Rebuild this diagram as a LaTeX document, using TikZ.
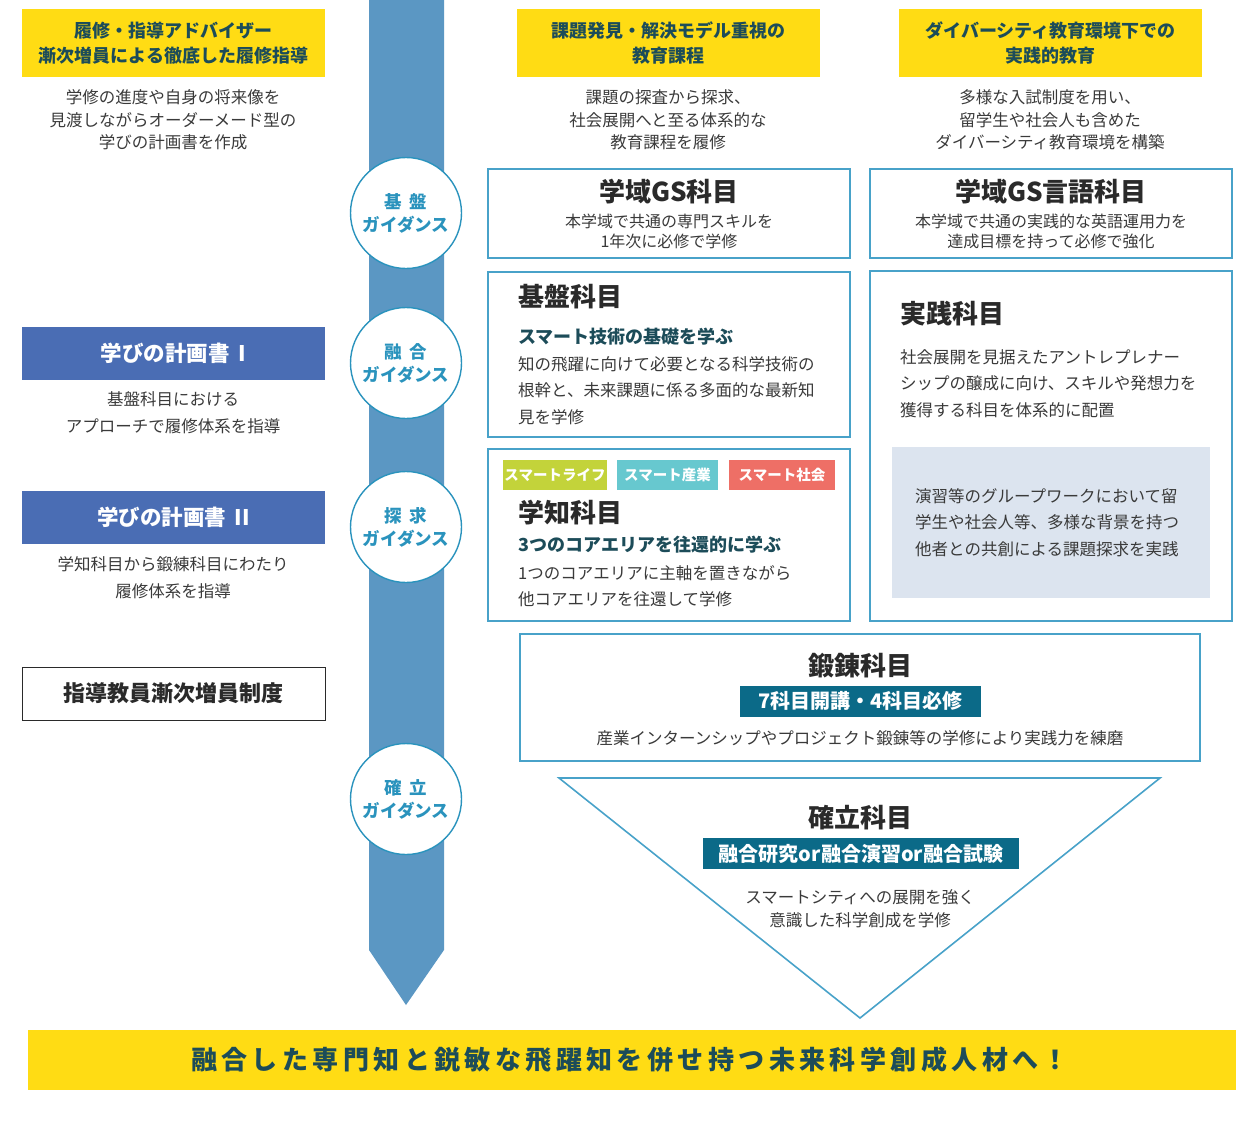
\documentclass[tikz,border=0pt]{standalone}
\usepackage{fontspec}
\setmainfont{Noto Sans CJK JP}
\usetikzlibrary{positioning}
\definecolor{gsyellow}{HTML}{FFDC14}
\definecolor{gsteal}{HTML}{1C4C59}
\definecolor{gsgray}{HTML}{3A3A3A}
\definecolor{gsdark}{HTML}{2A2A2A}
\definecolor{gsbar}{HTML}{5B97C3}
\definecolor{gscircle}{HTML}{2A93BD}
\definecolor{gsline}{HTML}{48A2C9}
\definecolor{gsblue}{HTML}{4A6DB4}
\definecolor{gstag}{HTML}{0B6A88}
\definecolor{gsmist}{HTML}{DCE4EF}
\definecolor{gslime}{HTML}{C3D33A}
\definecolor{gscyan}{HTML}{67C8CF}
\definecolor{gssalmon}{HTML}{EE6F66}

\begin{document}
\begin{tikzpicture}[x=1pt,y=-1pt,
  hdbox/.style={fill=gsyellow,minimum width=303pt,minimum height=68pt,inner sep=0pt,align=center,text=gsteal,font=\fontsize{18}{25}\selectfont\bfseries},
  note/.style={align=center,text=gsgray,inner sep=0pt,font=\fontsize{16.5}{22.5}\selectfont},
  guide/.style={circle,draw=gscircle,line width=1.4pt,fill=white,minimum size=111pt,inner sep=0pt,align=center,text=gscircle,font=\fontsize{17.5}{23}\selectfont\bfseries},
  subj/.style={draw=gsline,line width=1.6pt,fill=white},
  ttl/.style={text=gsdark,inner sep=0pt,font=\fontsize{26}{30}\selectfont\bfseries},
  lead/.style={text=gsteal,inner sep=0pt,font=\fontsize{18}{24}\selectfont\bfseries},
  body/.style={text=gsgray,inner sep=0pt,align=left,font=\fontsize{16.5}{26.5}\selectfont},
  plan/.style={fill=gsblue,minimum width=303pt,minimum height=53pt,inner sep=0pt,text=white,font=\fontsize{21.5}{24}\selectfont\bfseries},
  tag/.style={minimum height=30pt,inner sep=0pt,text=white,font=\fontsize{14.5}{18}\selectfont\bfseries},
  fact/.style={fill=gstag,minimum height=31pt,inner sep=0pt,text=white,font=\fontsize{20}{24}\selectfont\bfseries}]
\useasboundingbox (0,0) rectangle (1236,1122);

% vertical arrow
\fill[gsbar] (369,0) -- (444,0) -- (444,950) -- (406,1005) -- (369,950) -- cycle;

% top headings
\node[hdbox] (h1) at (173.5,43) {履修・指導アドバイザー\\漸次増員による徹底した履修指導};
\node[hdbox] (h2) at (668.5,43) {課題発見・解決モデル重視の\\教育課程};
\node[hdbox] (h3) at (1050.5,43) {ダイバーシティ教育環境下での\\実践的教育};
\node[note] (n1) at (173,120) {学修の進度や自身の将来像を\\見渡しながらオーダーメード型の\\学びの計画書を作成};
\node[note] (n2) at (668,120) {課題の探査から探求、\\社会展開へと至る体系的な\\教育課程を履修};
\node[note] (n3) at (1050,120) {多様な入試制度を用い、\\留学生や社会人も含めた\\ダイバーシティ教育環境を構築};

% guidance circles
\node[guide] (g1) at (406,213) {基\hspace{0.45em}盤\\ガイダンス};
\node[guide] (g2) at (406,363) {融\hspace{0.45em}合\\ガイダンス};
\node[guide] (g3) at (406,527) {探\hspace{0.45em}求\\ガイダンス};
\node[guide] (g4) at (406,799) {確\hspace{0.45em}立\\ガイダンス};

% left column
\node[plan] (p1) at (173.5,353.5) {学びの計画書\hspace{0.4em}I};
\node[note,font=\fontsize{16.5}{27}\selectfont] (pn1) at (173,412.5) {基盤科目における\\アプローチで履修体系を指導};
\node[plan] (p2) at (173.5,517.5) {学びの計画書\hspace{0.4em}II};
\node[note,font=\fontsize{16.5}{27}\selectfont] (pn2) at (173,577.5) {学知科目から鍛練科目にわたり\\履修体系を指導};
\node[draw=gsdark,line width=1pt,minimum width=303pt,minimum height=53pt,inner sep=0pt,text=gsdark,font=\fontsize{22}{24}\selectfont\bfseries] (staff) at (173.5,693.5) {指導教員漸次増員制度};

% GS boxes
\draw[subj] (488,169) rectangle (850,258);
\node[ttl] (gs) at (669,192) {学域GS科目};
\node[note,font=\fontsize{16}{20}\selectfont] (gsn) at (669,231) {本学域で共通の専門スキルを\\1年次に必修で学修};
\draw[subj] (870,169) rectangle (1232,258);
\node[ttl] (gsl) at (1051,192) {学域GS言語科目};
\node[note,font=\fontsize{16}{20}\selectfont] (gsln) at (1051,231) {本学域で共通の実践的な英語運用力を\\達成目標を持って必修で強化};

% kiban
\draw[subj] (488,272) rectangle (850,437);
\node[ttl,anchor=west] (kb) at (518,297) {基盤科目};
\node[lead,anchor=west] (kbl) at (518,337) {スマート技術の基礎を学ぶ};
\node[body,anchor=west] (kbb) at (518,390.5) {知の飛躍に向けて必要となる科学技術の\\根幹と、未来課題に係る多面的な最新知\\見を学修};

% gakuchi
\draw[subj] (488,449) rectangle (850,621);
\node[tag,fill=gslime,minimum width=104pt] (t1) at (555,475) {スマートライフ};
\node[tag,fill=gscyan,minimum width=101pt] (t2) at (667.5,475) {スマート産業};
\node[tag,fill=gssalmon,minimum width=106pt] (t3) at (782,475) {スマート社会};
\node[ttl,anchor=west] (gc) at (518,513) {学知科目};
\node[lead,anchor=west] (gcl) at (518,545) {3つのコアエリアを往還的に学ぶ};
\node[body,anchor=west] (gcb) at (518,586) {1つのコアエリアに主軸を置きながら\\他コアエリアを往還して学修};

% jissen
\draw[subj] (870,271) rectangle (1232,621);
\node[ttl,anchor=west] (js) at (900,314) {実践科目};
\node[body,anchor=west] (jsb) at (900,383.5) {社会展開を見据えたアントレプレナー\\シップの醸成に向け、スキルや発想力を\\獲得する科目を体系的に配置};
\fill[gsmist] (892,447) rectangle (1210,598);
\node[body,anchor=west] (jsm) at (915,522.5) {演習等のグループワークにおいて留\\学生や社会人等、多様な背景を持つ\\他者との共創による課題探求を実践};

% tanren
\draw[subj] (520,634) rectangle (1200,761);
\node[ttl] (tr) at (860,666) {鍛錬科目};
\node[fact,minimum width=241pt] (trf) at (860.5,701) {7科目開講・4科目必修};
\node[note] (trb) at (860,738) {産業インターンシップやプロジェクト鍛錬等の学修により実践力を練磨};

% kakuritsu
\draw[subj,fill=none] (559,778) -- (1160,778) -- (860,1018) -- cycle;
\node[ttl] (kr) at (860,818) {確立科目};
\node[fact,minimum width=316pt] (krf) at (861,853.5) {融合研究or融合演習or融合試験};
\node[note,font=\fontsize{16.5}{23}\selectfont] (krb) at (860,908.5) {スマートシティへの展開を強く\\意識した科学創成を学修};

% goal
\node[fill=gsyellow,minimum width=1208pt,minimum height=60pt,inner sep=0pt] (goal) at (632,1060) {};
\node[text=gsteal,inner sep=0pt,font=\fontsize{26}{30}\selectfont\bfseries\addfontfeature{LetterSpace=17}] (goalt) at (630,1060) {融合した専門知と鋭敏な飛躍知を併せ持つ未来科学創成人材へ！};
\end{tikzpicture}
\end{document}
